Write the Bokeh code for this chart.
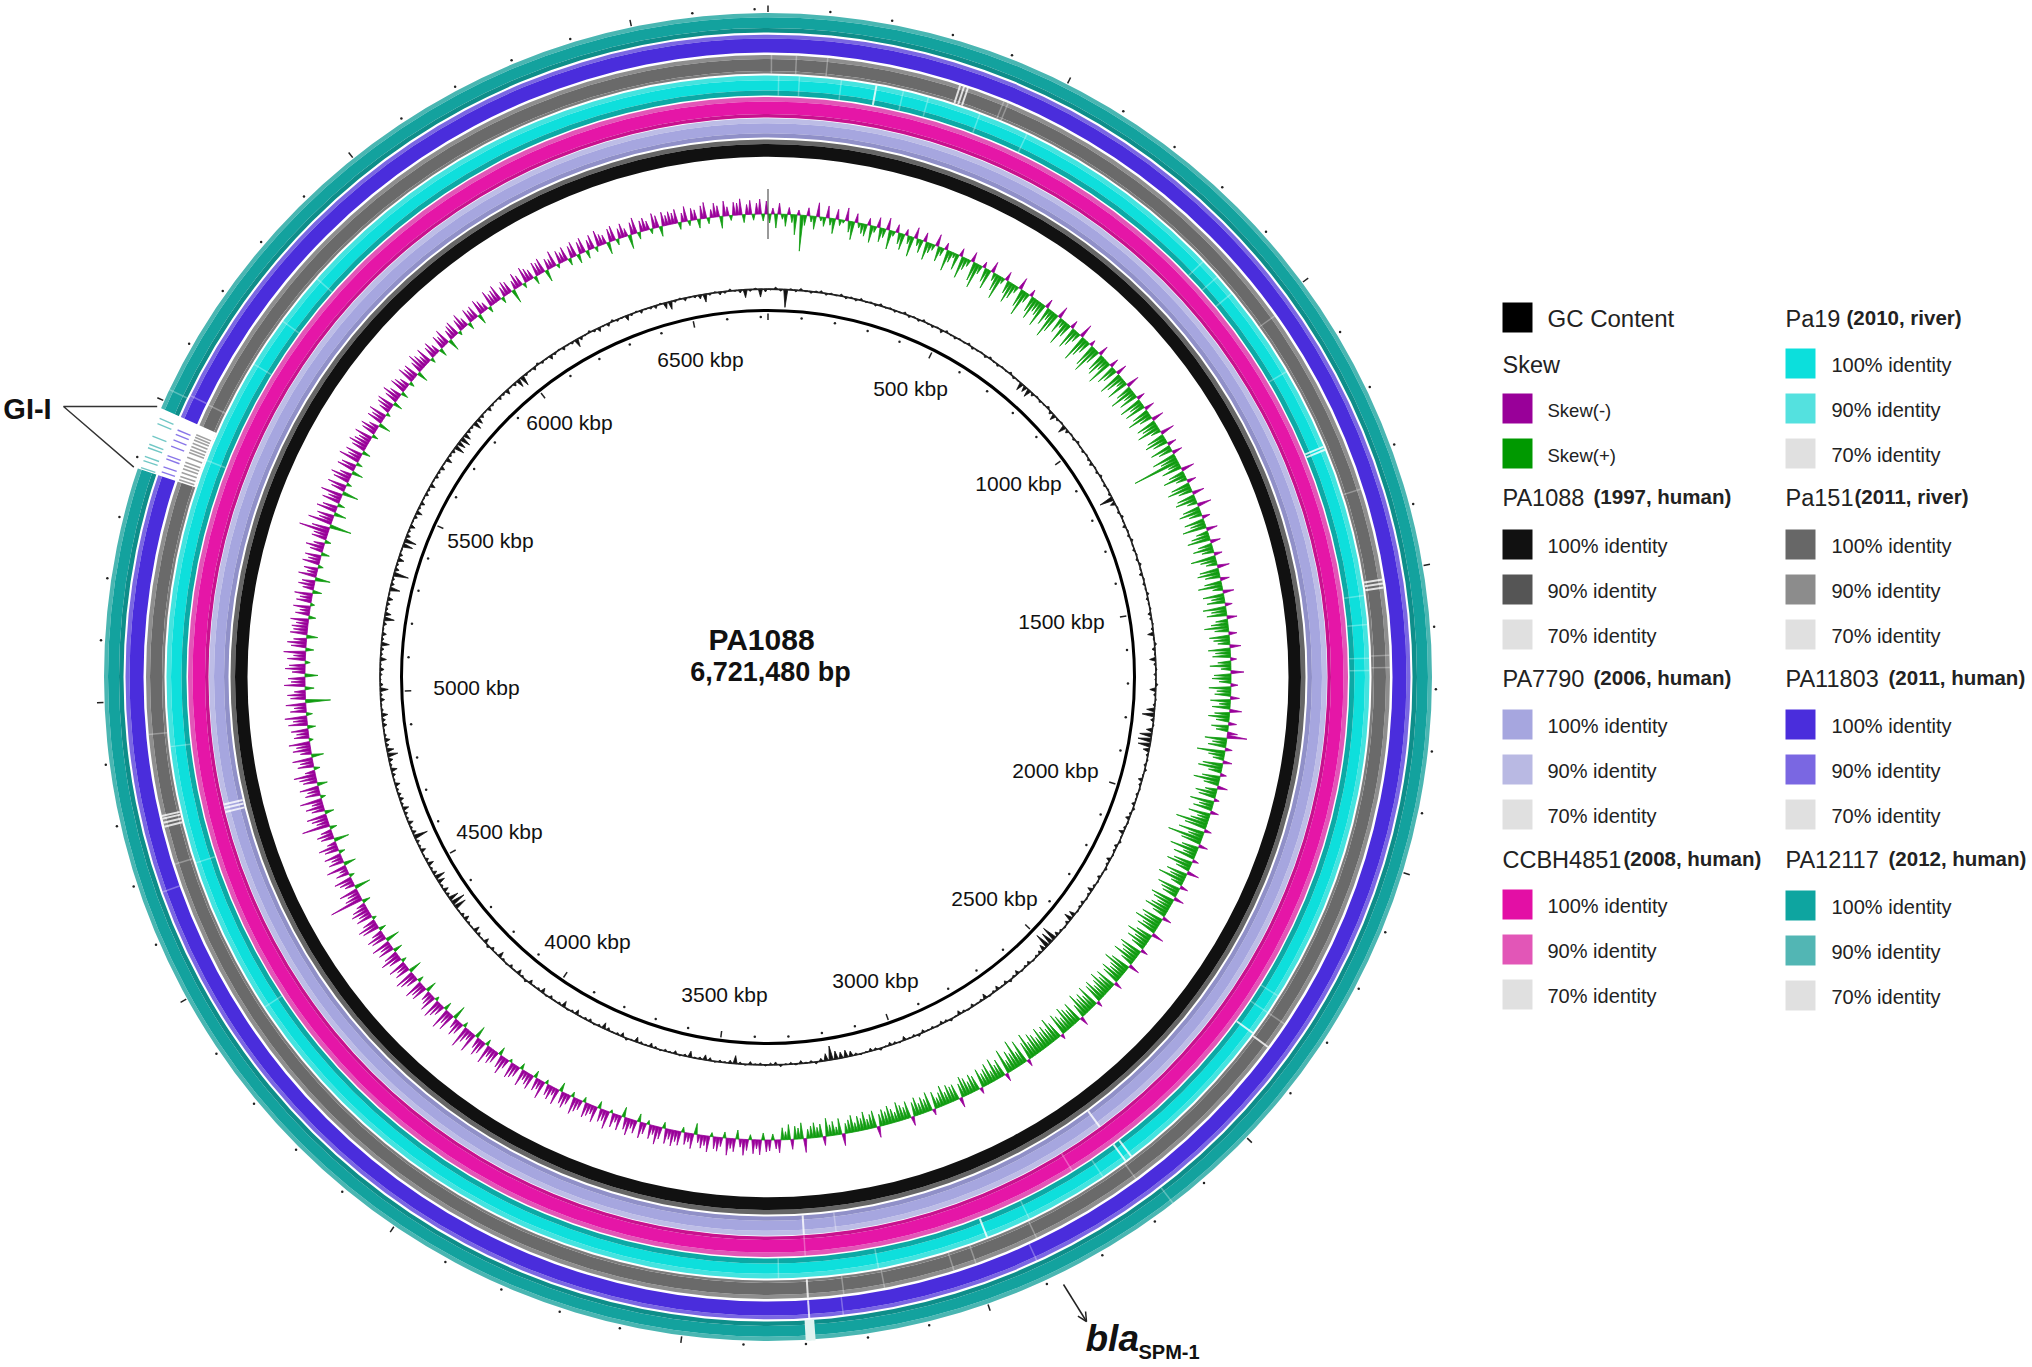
import math
from bokeh.plotting import figure
from bokeh.models import Range1d, Arrow, OpenHead
from bokeh.core.properties import value
from bokeh.embed import file_html
from bokeh.resources import INLINE

GENOME_KBP = 6721.48
CX, CY = 767.5, 676.5

# GC skew: one value per 0.4 degree clockwise from the origin. Positive = Skew(-) outward, negative = Skew(+) inward
skew_values = [
 -9,6,-14,11,-5,-12,7,-8,-20,5,-36,-10,8,-6,-13,14,-4,-9,12,-7,-15,10,-6,-3,13,-11,-18,9,-5,-10,
 -12,7,-17,-6,10,-14,-9,12,-19,-5,8,-11,-16,6,-8,-20,11,-7,-13,9,-18,-10,-6,12,-15,-8,7,-21,-11,-5,
 -16,8,-22,-12,-7,10,-19,-25,-9,6,-14,-20,11,-8,-17,-24,-6,9,-13,-21,-15,-7,12,-18,-26,-10,7,-16,-22,-12,
 -14,-24,9,-18,-11,-28,-20,12,-16,-8,-25,-14,8,-22,-17,-10,14,-27,-19,-13,6,-23,-28,-15,10,-18,-21,-12,-26,9,
 -20,-15,11,-24,-18,-9,-22,13,-16,-25,-12,-19,8,-23,-14,-21,10,-17,-24,-13,12,-20,-16,-23,-10,14,-18,-22,-15,9,
 -21,-14,10,-24,-17,-48,-12,-20,13,-16,-23,-11,9,-19,-24,-14,12,-18,-21,-10,14,-17,-22,-13,8,-20,-15,-24,11,-12,
 -18,-23,10,-14,-20,-12,8,-25,-16,-11,12,-19,-22,-15,9,-17,-24,-10,11,-21,-13,-18,7,-23,-15,-20,10,-12,-17,-24,
 -14,8,-20,-16,-12,11,-22,-15,-18,6,-13,-21,-10,13,-17,-19,-12,7,-22,-14,-16,9,-20,-11,-18,12,-15,-21,-13,8,
 -17,-12,10,20,-22,-14,-18,7,-28,-16,-11,9,-20,-24,-13,6,-18,-26,-15,10,-12,-21,-17,5,-24,-14,-19,8,-22,-12,
 -18,-32,-22,7,-26,-15,-35,-20,9,-17,-28,-13,-22,6,-19,-25,-14,12,-21,-16,-27,-12,8,-23,-18,-15,10,-24,-20,-14,
 -19,-24,-14,9,-22,-18,-26,-16,-20,12,-17,-25,-15,-21,-14,7,-23,-19,-16,-24,-13,11,-20,-26,-17,-15,-22,-18,8,-21,
 -16,-24,-18,-14,-22,-19,6,-23,-15,-20,-17,-24,-14,9,-21,-16,-19,-23,-14,-18,-22,5,-17,-24,-15,-20,-16,-22,-14,-19,
 -22,-15,-26,-18,7,-24,-14,-28,-16,-20,-12,-25,8,-18,-14,-22,-11,-20,-16,-13,-19,6,-15,-18,-12,-17,-20,-14,10,-16,
 -15,-18,-12,-20,-14,-10,-17,6,-19,-13,-16,-11,-18,-14,9,-17,-12,-15,-19,-10,-14,-18,-13,-16,-12,11,-17,-14,-10,-18,
 -12,-15,-9,-17,-13,-10,12,-16,-8,-14,-11,-18,9,-13,-10,-15,-12,-9,14,-16,-11,-13,10,-15,-8,-12,13,9,-6,11,
 12,-7,15,9,14,-5,11,16,8,-9,13,10,17,-6,9,14,12,-4,16,10,13,8,-11,15,9,12,-5,14,11,16,
 10,15,-6,12,18,9,14,-4,11,16,-8,13,9,17,12,-10,15,8,14,-3,18,11,13,-7,16,9,12,15,-5,10,
 13,17,-5,10,15,12,-9,16,8,14,11,-4,18,10,13,-7,15,12,9,17,-6,11,14,16,-3,10,18,13,-8,12,
 15,10,19,-6,13,17,11,-12,20,9,14,22,-5,12,16,10,-14,18,13,21,-8,11,15,19,-4,17,12,10,-11,16,
 14,19,-6,12,17,20,-13,15,11,18,-5,13,20,14,-9,16,12,19,-14,15,18,11,-7,17,20,13,-4,16,12,18,
 15,9,-8,34,16,12,19,-16,10,14,18,-5,13,8,20,-12,15,11,17,-6,14,19,9,-15,13,16,11,-7,28,12,
 16,20,-9,13,18,11,22,-5,15,12,19,-10,14,17,22,10,-6,16,13,20,-12,11,18,14,21,-4,15,12,17,-8,
 19,14,22,-6,16,12,20,-25,15,18,11,-9,21,14,17,-13,13,20,16,-5,18,12,22,-8,15,19,13,-11,17,14,
 16,12,18,-7,14,10,17,-4,15,12,18,-9,11,16,13,-15,18,10,14,-5,17,12,16,-8,13,18,11,-6,15,14,
 30,18,-22,24,14,17,-12,20,15,-7,18,13,22,-16,14,19,-5,16,20,12,-11,18,15,-6,21,13,17,-8,14,19,
 15,12,18,-6,14,17,10,-12,16,13,18,-4,11,15,17,-9,13,18,12,-7,16,14,10,-5,17,13,15,-11,12,18,
 14,10,16,-5,12,15,9,-8,14,11,16,-12,10,13,15,-4,12,16,9,-7,14,11,13,-10,15,12,8,-6,16,11,
 13,16,-6,10,14,12,-14,9,15,11,-5,16,13,10,-8,14,12,15,-12,11,9,16,-4,13,10,14,-7,12,15,-9,
 12,15,-8,10,14,-5,16,11,9,-12,13,15,-6,10,14,8,-14,12,16,-7,11,13,9,-5,15,12,-10,14,10,13,
 11,14,-7,9,15,-5,12,10,-9,13,16,-6,8,14,11,-12,15,9,-5,13,12,16,-8,10,14,-6,11,15,-7,13,
]

# GC content deviation: one value per 0.75 degree from the origin. Negative = inward
gc_values = [
 -1,2,-2,-18,1,-2,2,-1,-2,1,2,-2,1,-1,2,-2,1,-2,2,-1,1,-2,2,-1,
 1,-2,-1,2,-2,1,-2,2,-1,-2,1,-3,2,-1,-2,1,-1,2,-2,-1,1,-2,2,-1,
 -2,1,-1,2,-2,-1,-8,-6,-8,-3,1,-2,-1,2,-3,-6,-2,1,-8,-3,1,-2,2,-1,
 -2,1,-2,-3,1,-2,2,-1,-2,1,-2,-14,-5,1,-2,2,-1,-3,1,-2,2,-1,-2,1,
 -2,2,-1,-3,1,-2,-1,2,-2,-1,1,-3,-2,1,-2,-6,-1,2,-3,-1,-6,-2,1,-2,
 -1,2,-6,-2,1,-2,-8,-12,-3,1,-6,-12,-13,-12,-6,-2,1,-2,2,-1,-4,-2,1,-2,
 -1,-3,2,-2,-4,1,-2,-5,-1,2,-3,-2,1,-4,-2,2,-1,-3,1,-2,-5,-2,1,-3,
 -2,1,-6,-8,-3,1,-2,-4,-15,-12,-15,-6,-3,-2,1,-3,-2,1,-4,-2,2,-3,-1,-4,
 -2,1,-5,-2,-1,-3,1,-2,-4,-1,2,-2,-3,1,-2,-1,-3,2,-2,-1,-4,1,-2,-3,
 -1,2,-2,-3,-1,1,-2,-5,-7,-6,-8,-14,-7,-3,2,-2,-1,-3,1,-2,-1,2,-3,-2,
 1,-2,-1,-3,1,-2,-8,-3,-1,-2,1,-3,-5,-2,-1,-6,-2,1,-3,-1,-2,1,-2,-4,
 -1,-2,-5,-1,2,-4,-2,-1,-3,-6,-2,1,-3,-2,-1,-5,-2,1,-6,-2,-1,-3,1,-5,
 -2,-1,-4,2,-2,-5,-1,-3,1,-2,-6,-1,-3,2,-5,-1,-3,-6,-1,-2,-5,-3,-1,-12,
 -14,-10,-3,-5,-2,-7,-10,-4,-2,-6,-3,-1,-5,-2,-3,-14,-4,-2,-5,-2,-3,-6,-2,-4,
 -3,-2,-5,-1,-3,-6,-2,-4,-10,-7,-3,-5,-2,-1,-4,-3,-6,-2,-1,-4,-2,-8,-3,-1,
 -2,-4,-1,-6,-2,-3,-8,-2,-4,-1,-3,-10,-6,-2,-3,-5,-1,-10,-3,-2,-15,-4,-2,-6,
 -3,-1,-10,-12,-4,-2,-5,-1,-3,-6,-2,-4,-1,-3,-2,-5,-1,-3,-2,-4,-1,-6,-2,-3,
 -10,-8,-10,-7,-3,-2,-8,-6,-3,-1,-4,-2,-1,-3,-2,-5,-1,-3,-8,-10,-2,-1,-3,2,
 -2,-1,-4,-2,1,-3,-1,-2,-8,-3,-1,2,-2,-4,-1,-3,2,-2,-1,-5,-2,1,-3,-1,
 -2,-3,1,-6,-8,-2,1,-3,-1,-2,-4,-8,-2,1,-3,-2,2,-1,-3,-8,-2,1,-8,-3,
]

# Ring stripes, kbp: ring -> positions (strong / faint)
strong_stripes = {
 "teal": [3292, 3288],
 "purple": [3292],
 "grey": [336, 343, 350, 2362, 3292, 4781, 4788, 4795, 4800, 1512, 1519, 1526],
 "cyan": [194, 2358, 2962, 2680, 2667, 1260, 1266],
 "lavender": [2681, 3292, 4780, 4788, 4795],
}
faint_stripes = {
 "teal": [2659, 5520],
 "purple": [3235, 2899, 5526, 4676],
 "grey": [6, 49, 103, 416, 424, 1018, 1352, 1643, 1664, 2313, 2684, 2883, 2996, 3036, 3159, 3230, 4942, 4714, 5525],
 "cyan": [19, 56, 131, 243, 289, 385, 476, 865, 902, 941, 1111, 1535, 1587, 1647, 1669, 2278, 2313, 2729, 2880, 3163, 3342, 4420, 4705, 4917, 5435, 5626, 5718, 5815],
 "magenta": [3292, 2770],
 "lavender": [3230],
}
gi_start, gi_end = 5383, 5487
gi_teal = [5471, 5462, 5440, 5426, 5420, 5405, 5398, 5386]
gi_purple = [5465, 5457, 5447, 5436, 5419, 5413, 5399, 5390]
gi_grey = [5470, 5465, 5460, 5454, 5448, 5442, 5437, 5428, 5419, 5413, 5407, 5400, 5393, 5387]

tick_labels = ["500 kbp", "1000 kbp", "1500 kbp", "2000 kbp", "2500 kbp", "3000 kbp", "3500 kbp",
               "4000 kbp", "4500 kbp", "5000 kbp", "5500 kbp", "6000 kbp", "6500 kbp"]

# legend contents
legend_left = [("PA1088", "(1997, human)", ["#111111", "#555555", "#e0e0e0"]),
               ("PA7790", "(2006, human)", ["#a6a6df", "#b9b9e3", "#e0e0e0"]),
               ("CCBH4851", "(2008, human)", ["#e30fa5", "#e256b7", "#e0e0e0"])]
legend_right = [("Pa19", "(2010, river)", ["#0cdfdc", "#54e1df", "#e0e0e0"]),
                ("Pa151", "(2011, river)", ["#676767", "#8c8c8c", "#e0e0e0"]),
                ("PA11803", "(2011, human)", ["#4a2ddc", "#7a67e2", "#e0e0e0"]),
                ("PA12117", "(2012, human)", ["#0ea5a0", "#52b6b4", "#e0e0e0"])]
identity_labels = ["100% identity", "90% identity", "70% identity"]

# ---- layout ----
# name: (outer, inner, colour) bands of each ring
ring_bands = {
 "teal": [(664, 660, "#4ab6b2"), (660, 649, "#13a29e"), (649, 644.5, "#0e8e8a")],
 "purple": [(642.5, 638.5, "#7a67e2"), (638.5, 624.5, "#4a2ddc")],
 "grey": [(622, 618, "#8e8e8e"), (618, 606, "#6a6a6a"), (606, 603.5, "#7c7c7c")],
 "cyan": [(601.5, 597, "#45e3df"), (597, 586.5, "#0edfdc"), (586.5, 581.5, "#0ca9a5")],
 "magenta": [(580, 575.5, "#e256b7"), (575.5, 563, "#e516a7"), (563, 559.5, "#c9128f")],
 "lavender": [(559, 554, "#bdbde6"), (554, 544, "#a6a6df"), (544, 539.5, "#9090c8")],
 "black": [(537.5, 533, "#666666"), (533, 520.5, "#111111")],
}
ring_span = {k: (v[0][0], v[-1][1]) for k, v in ring_bands.items()}
label_centres = [(910, 387.5), (1018, 483), (1061, 621), (1055, 770), (994, 898), (875, 980), (724, 994),
                 (587, 941), (499, 831), (476, 687), (490, 540), (569, 422), (700, 359)]
block_y = [(497, [544, 589, 634]), (678, [724, 769, 814]), (859, [904, 949, 994])]
right_block_y = [(318, [363, 408, 453]), (497, [544, 589, 634]), (678, [724, 769, 814]), (859, [905, 950, 995])]
bold_x_left = [1593, 1593, 1623]
bold_x_right = [1846, 1854, 1888, 1888]
FONT = value("Liberation Sans")


def polar(kbp, r):
    t = kbp / GENOME_KBP * 2 * math.pi
    return CX + r * math.sin(t), CY - r * math.cos(t)


p = figure(width=2032, height=1367, x_range=Range1d(0, 2032), y_range=Range1d(1367, 0),
           output_backend="svg", toolbar_location=None, min_border=0)
p.axis.visible = False
p.grid.visible = False
p.outline_line_color = None
p.background_fill_color = "white"

# rings
for bands in ring_bands.values():
    for outer, inner, col in bands:
        p.annulus(x=[CX], y=[CY], inner_radius=inner, outer_radius=outer, fill_color=col, line_color=None)


def radial(kbps, r0, r1, color, alpha, width):
    pts0 = [polar(k, r0) for k in kbps]
    pts1 = [polar(k, r1) for k in kbps]
    p.segment(x0=[a[0] for a in pts0], y0=[a[1] for a in pts0], x1=[a[0] for a in pts1], y1=[a[1] for a in pts1],
              line_color=color, line_alpha=alpha, line_width=width)


def spikes(values, base, half_width, color, keep):
    """Thin triangles on the baseline circle, one per kept value, so dense runs merge at the base."""
    step = GENOME_KBP / len(values)
    xs, ys = [], []
    for i, v in enumerate(values):
        if not keep(v):
            continue
        k = (i + 0.5) * step
        a = polar(k - half_width * step, base)
        b = polar(k + half_width * step, base)
        c = polar(k, base + v)
        xs.append([a[0], b[0], c[0]])
        ys.append([a[1], b[1], c[1]])
    p.patches(xs, ys, fill_color=color, line_color=color, line_width=0.8)


for ring, kbps in faint_stripes.items():
    radial(kbps, ring_span[ring][1], ring_span[ring][0], "white", 0.3, 1.5)
for ring, kbps in strong_stripes.items():
    radial(kbps, ring_span[ring][1], ring_span[ring][0], "white", 0.8, 2)
# wide pale gap near 3292 kbp on the outer ring
gap = [polar(3284 + i * 2, 665) for i in range(9)] + [polar(3300 - i * 2, 644) for i in range(9)]
p.patch([g[0] for g in gap], [g[1] for g in gap], fill_color="#dff3f0", line_color=None)

# GI-I gap
steps = 24
outer = [polar(gi_start + (gi_end - gi_start) * i / steps, 666) for i in range(steps + 1)]
inner = [polar(gi_end - (gi_end - gi_start) * i / steps, 603) for i in range(steps + 1)]
p.patch([a[0] for a in outer + inner], [a[1] for a in outer + inner], fill_color="white", line_color=None)
radial(gi_grey, 605, 621, "#808080", 0.75, 1.6)
radial(gi_purple, 626, 640, "#4a2ddc", 0.65, 1.4)
radial(gi_teal, 646, 661, "#13a29e", 0.6, 1.4)

# skew
spikes(skew_values, 463, 0.5, "#990099", lambda v: v > 0)
spikes(skew_values, 463, 0.5, "#109c10", lambda v: v < 0)
radial([0], 438, 488, "#555555", 1, 1.2)

# GC
spikes(gc_values, 388, 0.4, "#111111", lambda v: True)
p.circle(x=[CX], y=[CY], radius=388, fill_color=None, line_color="#222222", line_width=1.6)

# backbone and ticks
p.circle(x=[CX], y=[CY], radius=366.5, fill_color=None, line_color="black", line_width=3)
minor = list(range(100, 6721, 100))
major = [k for k in minor if k % 500 == 0]
minor = [k for k in minor if k % 500 != 0]
for r in (360, 668):
    pts = [polar(k, r) for k in minor]
    p.scatter([a[0] for a in pts], [a[1] for a in pts], size=2.5, marker="circle", fill_color="#222222", line_color=None)
    radial(major + [0], r - 3, r + 3.5, "#222222", 1, 1.5)

# tick labels
p.text([c[0] for c in label_centres], [c[1] for c in label_centres], text=tick_labels, text_font=FONT,
       text_font_size="21px", text_align="center", text_baseline="middle", text_color="#111111")

# centre
p.text([761], [639], text=["PA1088"], text_font=FONT, text_font_style="bold", text_font_size="30px",
       text_align="center", text_baseline="middle", text_color="#111111")
p.text([770], [671], text=["6,721,480 bp"], text_font=FONT, text_font_style="bold", text_font_size="27px",
       text_align="center", text_baseline="middle", text_color="#111111")

# GI-I annotation
p.text([27], [408], text=["GI-I"], text_font=FONT, text_font_style="bold", text_font_size="29px",
       text_align="center", text_baseline="middle", text_color="#111111")
g0 = polar(gi_end, 668)
g1 = polar(gi_start, 668)
p.line([g0[0], 63, g1[0]], [g0[1], 406, g1[1]], line_color="#333333", line_width=1.4)

# blaSPM-1 annotation
p.add_layout(Arrow(end=OpenHead(size=9, line_color="#222222", line_width=1.5), x_start=1063, y_start=1284,
                   x_end=1086, y_end=1321, line_color="#222222", line_width=1.5))
p.text([1085], [1338], text=["bla"], text_font=FONT, text_font_style="bold italic", text_font_size="37px",
       text_align="left", text_baseline="middle", text_color="#111111")
p.text([1138], [1351], text=["SPM-1"], text_font=FONT, text_font_style="bold", text_font_size="20px",
       text_align="left", text_baseline="middle", text_color="#111111")


# legend
def swatch(x, y, col):
    p.rect([x + 15], [y], width=30, height=30, fill_color=col, line_color=None)


def label(x, y, s, size, style="normal"):
    p.text([x], [y], text=[s], text_font=FONT, text_font_size=size, text_font_style=style,
           text_align="left", text_baseline="middle", text_color="#222222")


XL, XR = 1502, 1785
TL, TR = 1547, 1831
swatch(XL, 317, "#000000")
label(TL, 318, "GC Content", "24px")
label(XL, 364, "Skew", "23.5px")
swatch(XL, 408, "#990099")
label(TL, 410, "Skew(-)", "18.5px")
swatch(XL, 453, "#009900")
label(TL, 455, "Skew(+)", "18.5px")


def block(x, tx, y_title, ys, name, extra, cols, bx):
    label(x, y_title, name, "23.5px")
    label(bx, y_title - 1, extra, "20.5px", "bold")
    for y, c, t in zip(ys, cols, identity_labels):
        swatch(x, y, c)
        label(tx, y + 1, t, "20px")


for (yt, ys), (nm, ex, cols), bx in zip(block_y, legend_left, bold_x_left):
    block(XL, TL, yt, ys, nm, ex, cols, bx)
for (yt, ys), (nm, ex, cols), bx in zip(right_block_y, legend_right, bold_x_right):
    block(XR, TR, yt, ys, nm, ex, cols, bx)

open("out.html", "w").write(file_html(p, INLINE))
